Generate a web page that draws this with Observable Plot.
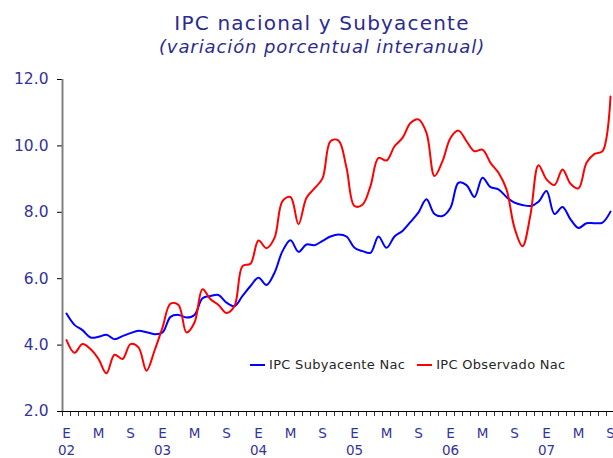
<!DOCTYPE html>
<html><head><meta charset="utf-8">
<script src="https://cdn.jsdelivr.net/npm/d3@7"></script>
<script src="https://cdn.jsdelivr.net/npm/@observablehq/plot@0.6"></script>
<style>
body{margin:0;background:#fff;}
#wrap{position:relative;width:613px;height:458px;overflow:hidden;font-family:"DejaVu Sans",Verdana,sans-serif;background:#fff;}
#wrap svg{position:absolute;left:0;top:0;}
.ttl{position:absolute;left:0;width:644px;text-align:center;color:#2b2b8f;white-space:nowrap;line-height:normal;z-index:2;}
#t1{top:10.7px;font-size:20px;letter-spacing:1.2px;}
#t2{top:36px;font-size:18px;font-style:italic;letter-spacing:0.9px;}
#legend{position:absolute;left:250px;top:357px;display:flex;align-items:center;font-size:13px;letter-spacing:0.3px;color:#262626;z-index:2;white-space:nowrap;}
.item{display:flex;align-items:center;margin-right:12px;}
.sw{width:15px;height:2px;margin-right:4px;}
</style></head><body>
<div id="wrap">
  <div class="ttl" id="t1">IPC nacional y Subyacente</div>
  <div class="ttl" id="t2">(variación porcentual interanual)</div>
  <div id="legend"></div>
</div>
<script>
const years = ["02","03","04","05","06","07"];
const monthLetters = ["E","M","S"];
const yTicks = [2,4,6,8,10,12];
const seriesNames = ["IPC Subyacente Nac","IPC Observado Nac"];
const seriesColors = ["#0000ff","#ff0000"];

// monthly values, Jan 2002 .. Sep 2007
const subyacente = [
  4.95,4.61,4.45,4.23,4.25,4.31,4.18,4.27,4.36,4.43,4.39,4.33,
  4.38,4.85,4.91,4.83,4.91,5.41,5.48,5.51,5.28,5.17,5.48,5.78,
  6.03,5.81,6.18,6.83,7.16,6.81,7.03,7.01,7.14,7.27,7.33,7.27,
  6.93,6.83,6.78,7.27,6.93,7.27,7.44,7.71,8.00,8.39,7.95,7.89,
  8.14,8.89,8.82,8.46,9.04,8.76,8.69,8.46,8.29,8.22,8.19,8.32,
  8.64,7.95,8.16,7.79,7.53,7.67,7.67,7.69,8.02
];
const observado = [
  4.15,3.77,4.03,3.88,3.58,3.15,3.71,3.58,4.03,3.93,3.23,3.83,
  4.53,5.25,5.21,4.38,4.68,5.68,5.38,5.21,4.97,5.18,6.38,6.45,
  7.15,6.92,7.23,8.34,8.46,7.64,8.44,8.72,9.02,10.14,10.16,9.34,
  8.19,8.23,8.79,9.64,9.56,9.99,10.24,10.69,10.80,10.39,9.09,9.54,
  10.24,10.46,10.14,9.84,9.89,9.49,9.19,8.69,7.53,6.98,7.93,9.42,
  8.99,8.82,9.29,8.86,8.72,9.49,9.76,9.84,11.49
];

const rows = [];
subyacente.forEach((v, i) => rows.push({i, v, s: seriesNames[0]}));
observado.forEach((v, i) => rows.push({i, v, s: seriesNames[1]}));

const navy = "#333399";
const plot = Plot.plot({
  width: 613, height: 458,
  marginLeft: 62, marginRight: 0, marginTop: 79, marginBottom: 47,
  style: {fontFamily: "'DejaVu Sans', Verdana, sans-serif", background: "transparent", overflow: "visible"},
  x: {type: "linear", domain: [-0.5, 68.375]},
  y: {domain: [2, 12]},
  color: {domain: seriesNames, range: seriesColors},
  marks: [
    Plot.axisY({ticks: yTicks, tickFormat: d3.format(".1f"), tickSize: 5, tickPadding: 9, fontSize: 15.5, fill: navy, stroke: "black", label: null}),
    Plot.axisX({ticks: d3.range(-0.5, 68.4, 1), tickSize: 5, tickFormat: () => "", stroke: "#333", label: null}),
    Plot.axisX({ticks: d3.range(0, 69, 4), tickSize: 0, tickPadding: 17, tickFormat: i => monthLetters[(i / 4) % 3], fontSize: 13.5, fill: navy, label: null}),
    Plot.axisX({ticks: d3.range(0, 69, 12), tickSize: 0, tickPadding: 34, tickFormat: i => years[i / 12], fontSize: 13.5, fill: navy, label: null}),
    Plot.ruleY([2], {stroke: "black"}),
    Plot.ruleX([-0.5], {stroke: "#808080", strokeWidth: 2}),
    Plot.line(rows, {x: "i", y: "v", z: "s", stroke: "s", strokeWidth: 2, curve: "catmull-rom"})
  ]
});
document.getElementById("wrap").appendChild(plot);

const legend = document.getElementById("legend");
seriesNames.forEach((name, k) => {
  const it = document.createElement("div");
  it.className = "item";
  const sw = document.createElement("span");
  sw.className = "sw";
  sw.style.background = seriesColors[k];
  const tx = document.createElement("span");
  tx.textContent = name;
  it.appendChild(sw); it.appendChild(tx);
  legend.appendChild(it);
});
</script>
</body></html>
